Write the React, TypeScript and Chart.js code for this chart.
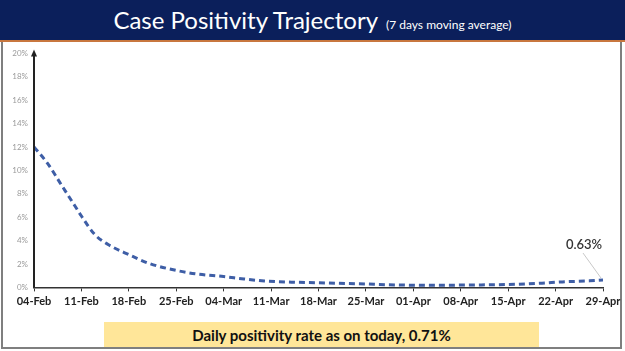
import React, { useEffect, useRef } from "react";
import { Chart, registerables } from "chart.js";

Chart.register(...registerables);

const xLabels = ["04-Feb", "11-Feb", "18-Feb", "25-Feb", "04-Mar", "11-Mar", "18-Mar", "25-Mar", "01-Apr", "08-Apr", "15-Apr", "22-Apr", "29-Apr"];
const yTickLabels = ["0%", "2%", "4%", "6%", "8%", "10%", "12%", "14%", "16%", "18%", "20%"];
const dayIndex = [0, 2, 4, 6, 7, 9, 11, 14, 17, 21, 24, 28, 31, 34, 38, 42, 49, 52, 59, 63, 71, 75, 78, 82, 84];
const positivity = [12.0, 10.6, 8.8, 7.0, 6.1, 4.5, 3.65, 2.8, 2.05, 1.45, 1.15, 0.93, 0.72, 0.55, 0.45, 0.4, 0.29, 0.23, 0.18, 0.2, 0.26, 0.36, 0.47, 0.56, 0.63];
const endLabel = "0.63%";
const titleMain = "Case Positivity Trajectory";
const titleSub = "(7 days moving average)";
const footerText = "Daily positivity rate as on today, 0.71%";

const decorPlugin = {
  id: "decor",
  afterDatasetsDraw(chart: any) {
    const ctx = chart.ctx;
    const area = chart.chartArea;
    const xs = chart.scales.x;
    const ys = chart.scales.y;
    ctx.save();
    const ax = area.left;
    ctx.fillStyle = "#222";
    ctx.beginPath();
    ctx.moveTo(ax, area.top - 4);
    ctx.lineTo(ax - 3, area.top + 3);
    ctx.lineTo(ax + 3, area.top + 3);
    ctx.closePath();
    ctx.fill();
    ctx.strokeStyle = "#222";
    ctx.lineWidth = 2;
    ctx.beginPath();
    ctx.moveTo(ax, area.top);
    ctx.lineTo(ax, area.bottom);
    ctx.stroke();
    const lastX = xs.getPixelForValue(dayIndex[dayIndex.length - 1]);
    const lastY = ys.getPixelForValue(positivity[positivity.length - 1]);
    ctx.strokeStyle = "#c8c8c8";
    ctx.lineWidth = 1;
    ctx.beginPath();
    ctx.moveTo(lastX - 2, lastY - 2);
    ctx.lineTo(lastX - 20, lastY - 27);
    ctx.stroke();
    ctx.fillStyle = "#333";
    ctx.font = "600 13px Lato, 'Open Sans', sans-serif";
    ctx.textAlign = "center";
    ctx.textBaseline = "middle";
    ctx.fillText(endLabel, lastX - 19, lastY - 35);
    ctx.restore();
  },
};

export default function App() {
  const canvasRef = useRef<HTMLCanvasElement | null>(null);

  useEffect(() => {
    document.body.style.margin = "0";
    const canvas = canvasRef.current;
    if (!canvas) return;
    const chart = new Chart(canvas, {
      type: "line",
      data: {
        datasets: [
          {
            data: dayIndex.map((d, i) => ({ x: d, y: positivity[i] })),
            borderColor: "#3e5ea6",
            borderWidth: 3,
            borderDash: [6, 4],
            pointRadius: 0,
            fill: false,
            cubicInterpolationMode: "monotone",
          },
        ],
      },
      options: {
        animation: false,
        responsive: false,
        maintainAspectRatio: false,
        layout: { padding: { left: 0, right: 22, top: 13.4, bottom: 4.6 } },
        plugins: { legend: { display: false }, tooltip: { enabled: false } },
        scales: {
          x: {
            type: "linear",
            min: 0,
            max: 84,
            afterBuildTicks: (scale: any) => {
              scale.ticks = xLabels.map((_, i) => ({ value: i * 7 }));
            },
            afterFit: (scale: any) => {
              scale.height = 28;
            },
            ticks: {
              autoSkip: false,
              maxRotation: 0,
              padding: 3,
              color: "#222",
              font: { family: "Lato, 'Open Sans', sans-serif", size: 11, weight: "bold" },
              callback: (v: any) => xLabels[Math.round(v / 7)],
            },
            grid: { display: true, drawOnChartArea: false, tickLength: 4, color: "#333", tickWidth: 1 },
            border: { display: true, color: "#333", width: 1.5 },
          },
          y: {
            min: 0,
            max: 20,
            afterBuildTicks: (scale: any) => {
              scale.ticks = yTickLabels.map((_, i) => ({ value: i * 2 }));
            },
            afterFit: (scale: any) => {
              scale.width = 34;
            },
            ticks: {
              padding: 6,
              color: "#9a9a9a",
              font: { family: "Lato, 'Open Sans', sans-serif", size: 8 },
              callback: (v: any) => yTickLabels[Math.round(v / 2)],
            },
            grid: { display: false, drawTicks: false },
            border: { display: false },
          },
        },
      },
      plugins: [decorPlugin],
    } as any);
    return () => chart.destroy();
  }, []);

  return (
    <div style={{ position: "fixed", left: 0, top: 0, width: 625, height: 351, background: "#fff", overflow: "hidden" }}>
      <div
        style={{
          position: "absolute",
          left: 0,
          top: 0,
          width: 625,
          height: 40,
          background: "#0b1f5b",
          color: "#fff",
          display: "flex",
          alignItems: "baseline",
          justifyContent: "center",
          fontFamily: "Lato, 'Open Sans', sans-serif",
          boxSizing: "border-box",
          paddingTop: 5,
        }}
      >
        <span style={{ fontSize: 24, lineHeight: "30px" }}>{titleMain}</span>
        <span style={{ fontSize: 12, marginLeft: 8 }}>{titleSub}</span>
      </div>
      <div style={{ position: "absolute", left: 0, top: 40, width: 625, height: 2, background: "#c8773f" }} />
      <div
        style={{
          position: "absolute",
          left: 1,
          top: 42,
          width: 621,
          height: 307,
          borderLeft: "2px solid #7f7f7f",
          borderRight: "2px solid #7f7f7f",
          borderBottom: "2px solid #7f7f7f",
          boxSizing: "border-box",
        }}
      />
      <canvas ref={canvasRef} width={625} height={280} style={{ position: "absolute", left: 0, top: 40, width: 625, height: 280 }} />
      <div
        style={{
          position: "absolute",
          left: 104,
          top: 322,
          width: 435,
          height: 25,
          background: "#ffe699",
          display: "flex",
          alignItems: "center",
          justifyContent: "center",
          fontFamily: "Lato, 'Open Sans', sans-serif",
          fontWeight: "bold",
          fontSize: 15,
          color: "#111",
        }}
      >
        {footerText}
      </div>
    </div>
  );
}
